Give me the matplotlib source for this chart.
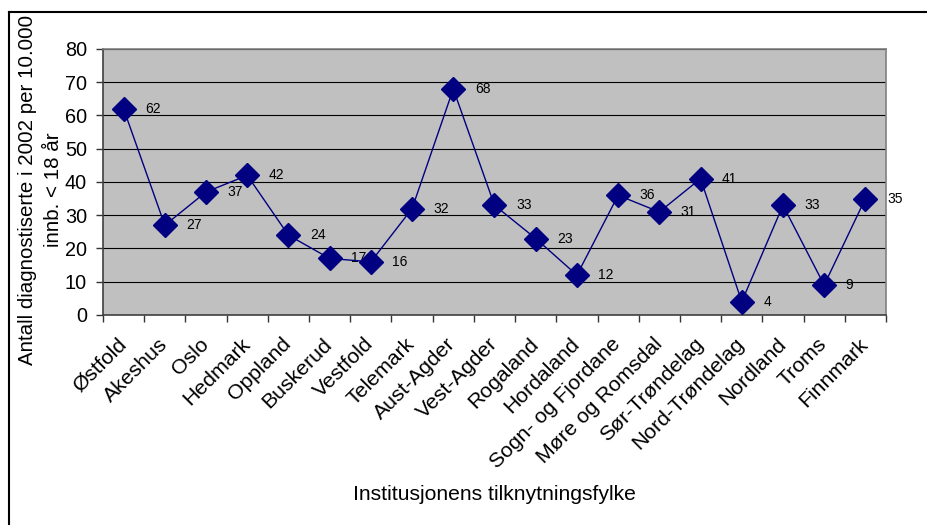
import matplotlib
matplotlib.use("Agg")
import matplotlib.pyplot as plt
from matplotlib.lines import Line2D
from matplotlib.transforms import ScaledTranslation

plt.rcParams['font.family'] = ['Liberation Sans', 'DejaVu Sans']

fylker = ["Østfold", "Akeshus", "Oslo", "Hedmark", "Oppland", "Buskerud",
          "Vestfold", "Telemark", "Aust-Agder", "Vest-Agder", "Rogaland",
          "Hordaland", "Sogn- og Fjordane", "Møre og Romsdal", "Sør-Trøndelag",
          "Nord-Trøndelag", "Nordland", "Troms", "Finnmark"]
antall = [62, 27, 37, 42, 24, 17, 16, 32, 68, 33, 23, 12, 36, 31, 41, 4, 33, 9, 35]
y_ticks = [0, 10, 20, 30, 40, 50, 60, 70, 80]

W, H = 928, 525
fig = plt.figure(figsize=(W / 100, H / 100), dpi=100)
fig.patch.set_facecolor("white")

ax = fig.add_axes([103 / W, 1 - 315 / H, (886 - 103) / W, (315 - 49) / H])
ax.set_facecolor("#C0C0C0")

x = list(range(len(fylker)))
ax.plot(x, antall, color="#000080", lw=1.0, marker="D", ms=12,
        markerfacecolor="#000080", markeredgecolor="#000080", zorder=3)

for xi, v in zip(x, antall):
    ax.annotate(str(v), (xi, v), xytext=(15.5, 0), textcoords="offset points",
                ha="left", va="center", fontsize=10, color="black",
                annotation_clip=False, zorder=2)

ax.set_xlim(-0.5, len(fylker) - 0.5)
ax.set_ylim(0, 80)
ax.set_yticks(y_ticks)
ax.set_yticklabels([str(t) for t in y_ticks], fontsize=14.3)
ax.yaxis.grid(True, color="black", lw=0.8)
ax.set_axisbelow(True)
ax.tick_params(axis="y", direction="out", length=5, width=1, color="#333333", pad=6.5)

# category labels at centers, tick marks at category boundaries
ax.set_xticks(x)
ax.set_xticklabels(fylker, fontsize=15.3, rotation=45, ha="right", va="top",
                   rotation_mode="anchor")
ax.tick_params(axis="x", which="major", length=0, pad=14)
ax.set_xticks([i - 0.5 for i in range(len(fylker) + 1)], minor=True)
ax.tick_params(axis="x", which="minor", direction="out", length=5, width=1, color="#333333")
shift = ScaledTranslation(-7 / 100, 0, fig.dpi_scale_trans)
for lbl in ax.get_xticklabels():
    lbl.set_transform(lbl.get_transform() + shift)

for s in ("left", "bottom"):
    ax.spines[s].set_color("#404040")
    ax.spines[s].set_linewidth(1.2)
for s in ("top", "right"):
    ax.spines[s].set_color("#808080")
    ax.spines[s].set_linewidth(1.2)

fig.text(40.5 / W, 1 - 190 / H,
         "Antall diagnostiserte i 2002 per 10.000\ninnb. < 18 år",
         rotation=90, ha="center", va="center", multialignment="center",
         fontsize=14.8, linespacing=1.45)
fig.text(494 / W, 1 - 494 / H, "Institusjonens tilknytningsfylke",
         ha="center", va="center", fontsize=15.2)

# chart frame
fig.add_artist(Line2D([9.5 / W, 9.5 / W], [0, 1 - 12 / H], transform=fig.transFigure,
                      color="black", lw=1.5))
fig.add_artist(Line2D([9.5 / W, 1], [1 - 12 / H, 1 - 12 / H], transform=fig.transFigure,
                      color="black", lw=1.5))

fig.savefig("out.png", dpi=100)
